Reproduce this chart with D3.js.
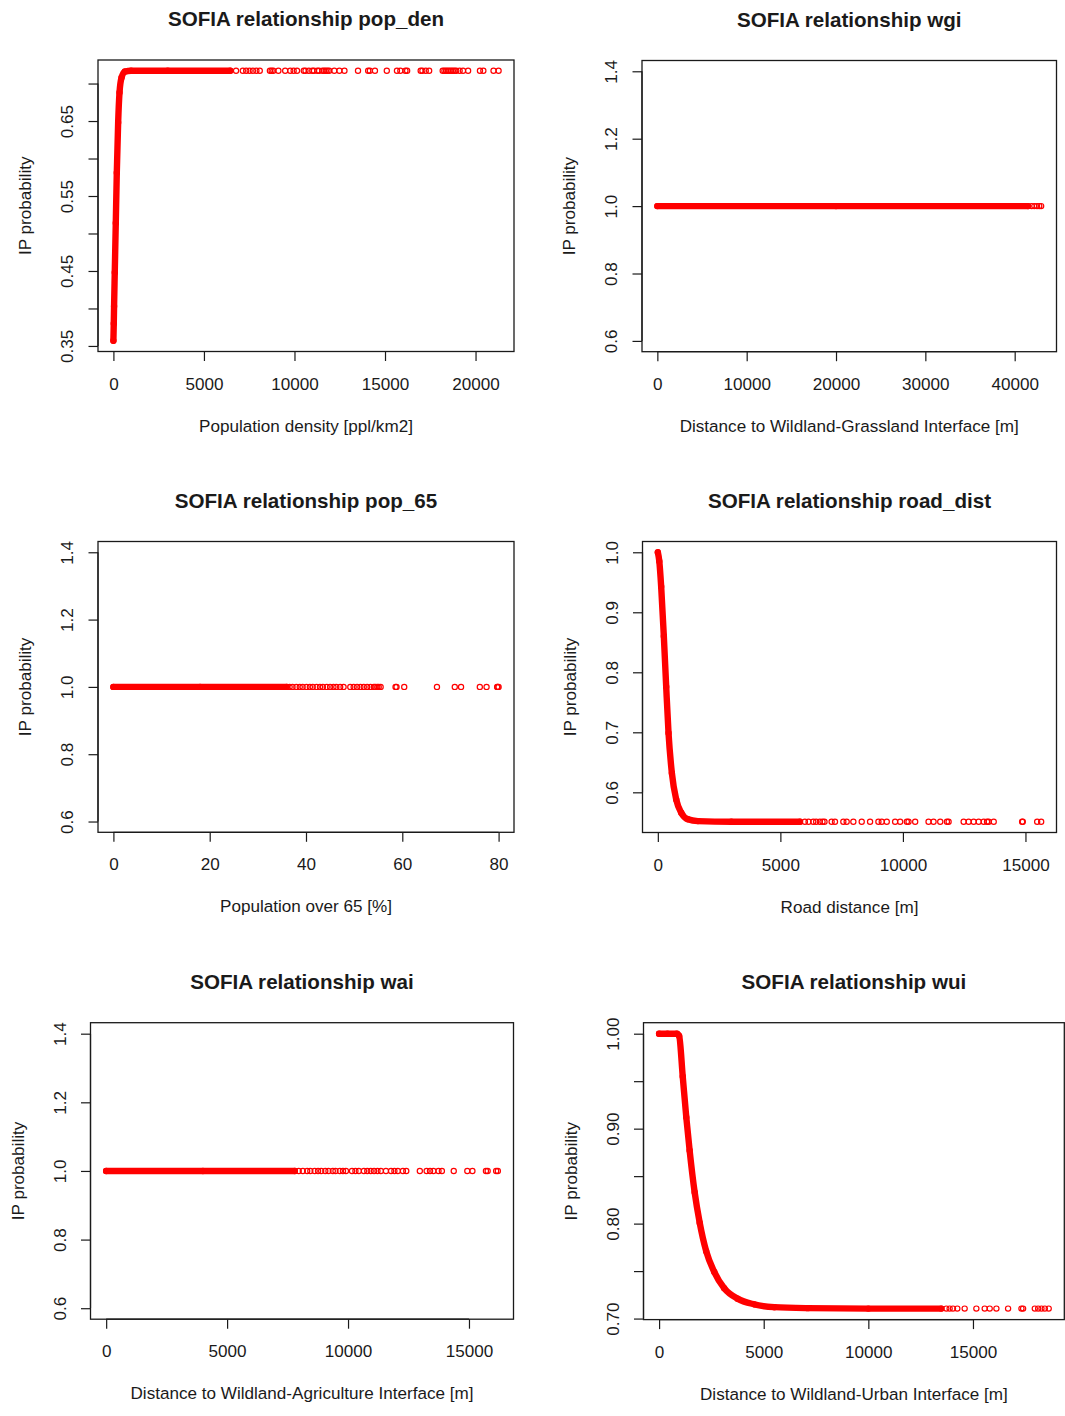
<!DOCTYPE html>
<html>
<head>
<meta charset="utf-8">
<script src="https://cdn.jsdelivr.net/npm/d3@7"></script>
<style>
  body { margin: 0; background: #fff; }
  svg { display: block; }
  text { font-family: "Liberation Sans", Arial, Helvetica, sans-serif; fill: #1a1a1a; }
</style>
</head>
<body>
<svg id="fig" width="1065" height="1416"></svg>
<script>
// ---------------- data ----------------
// pop_den: dense part of the response curve (x, y) and the sparse tail on the plateau
const popDenCurveX = [0, 20, 37, 75, 131, 187, 262, 337, 449, 636, 973, 3000, 6450];
const popDenCurveY = [0.357, 0.380, 0.403, 0.448, 0.514, 0.581, 0.648, 0.688, 0.708, 0.716, 0.717, 0.717, 0.717];
const popDenTailX = [6773, 7147, 7334, 7521, 7709, 7896, 8083, 8644, 8738, 8831, 9112, 9486, 9767, 9954,
  10141, 10515, 10609, 10796, 10983, 11076, 11263, 11357, 11544, 11638, 11731, 11825, 11918, 12199,
  12480, 12760, 13509, 14070, 14163, 14444, 15099, 15660, 15847, 16128, 16222, 16970, 17064, 17251,
  17438, 18186, 18280, 18373, 18467, 18560, 18654, 18747, 18841, 18934, 19121, 19309, 19589, 20244,
  20431, 20993, 21273];
const popDenTailY = 0.717;
const popDenXTicks = [0, 5000, 10000, 15000, 20000];
const popDenYTicks = [0.35, 0.40, 0.45, 0.50, 0.55, 0.60, 0.65, 0.70];
const popDenYLabels = ["0.35", "", "0.45", "", "0.55", "", "0.65", ""];

// wgi
const wgiCurveX = [0, 20000, 41500];
const wgiCurveY = [1.0, 1.0, 1.0];
const wgiTailX = [41900, 42200, 42500, 42750, 42963];
const wgiTailY = 1.0;
const wgiXTicks = [0, 10000, 20000, 30000, 40000];
const wgiYTicks = [0.6, 0.8, 1.0, 1.2, 1.4];
const wgiYLabels = ["0.6", "0.8", "1.0", "1.2", "1.4"];

// pop_65
const pop65CurveX = [0, 18, 36];
const pop65CurveY = [1.0, 1.0, 1.0];
const pop65TailX = [36.6, 37.2, 38.0, 38.7, 39.3, 40.1, 40.8, 41.4, 42.2, 42.9, 43.5, 44.3, 45.0, 45.7,
  46.3, 47.1, 47.8, 49.2, 49.9, 50.6, 51.3, 52.0, 52.7, 53.4, 54.1, 54.4, 54.8, 55.1, 55.5, 58.6, 58.8,
  60.4, 67.2, 70.9, 72.2, 76.1, 77.5, 79.7, 79.8, 80.0];
const pop65TailY = 1.0;
const pop65XTicks = [0, 20, 40, 60, 80];
const pop65YTicks = [0.6, 0.8, 1.0, 1.2, 1.4];
const pop65YLabels = ["0.6", "0.8", "1.0", "1.2", "1.4"];

// road_dist
const roadCurveX = [0, 60, 136, 245, 341, 436, 573, 750, 955, 1228, 1637, 3000, 5800];
const roadCurveY = [1.0, 0.985, 0.943, 0.860, 0.776, 0.699, 0.632, 0.588, 0.566, 0.555, 0.552, 0.551, 0.551];
const roadTailX = [6000, 6150, 6340, 6460, 6610, 6720, 6800, 7091, 7228, 7569, 7705, 7978, 8319, 8660,
  9000, 9137, 9341, 9682, 9887, 10160, 10228, 10500, 11046, 11250, 11523, 11796, 11864, 12478, 12682,
  12887, 13091, 13296, 13432, 13500, 13705, 14864, 14891, 15478, 15641];
const roadTailY = 0.551;
const roadXTicks = [0, 5000, 10000, 15000];
const roadYTicks = [0.6, 0.7, 0.8, 0.9, 1.0];
const roadYLabels = ["0.6", "0.7", "0.8", "0.9", "1.0"];

// wai
const waiCurveX = [0, 4000, 7800];
const waiCurveY = [1.0, 1.0, 1.0];
const waiTailX = [7960, 8130, 8310, 8440, 8620, 8760, 8890, 9060, 9190, 9370, 9480, 9660, 9790, 9913,
  10164, 10305, 10445, 10655, 10795, 10936, 11076, 11216, 11356, 11567, 11777, 11917, 12057, 12268,
  12408, 12968, 13249, 13389, 13529, 13740, 13880, 14370, 14931, 15142, 15702, 15772, 16123, 16193];
const waiTailY = 1.0;
const waiXTicks = [0, 5000, 10000, 15000];
const waiYTicks = [0.6, 0.8, 1.0, 1.2, 1.4];
const waiYLabels = ["0.6", "0.8", "1.0", "1.2", "1.4"];

// wui
const wuiCurveX = [0, 400, 850, 960, 1130, 1300, 1460, 1700, 1940, 2250, 2640, 3112, 3750, 4549, 5506, 7102, 10000, 13486];
const wuiCurveY = [1.0, 1.0, 1.0, 0.9975, 0.955, 0.912, 0.877, 0.833, 0.801, 0.771, 0.749, 0.732, 0.721, 0.715, 0.712, 0.711, 0.7105, 0.7105];
const wuiTailX = [13726, 13885, 14045, 14252, 14603, 15162, 15561, 15800, 16120, 16678, 17317, 17396,
  17955, 18115, 18274, 18434, 18620];
const wuiTailY = 0.7105;
const wuiXTicks = [0, 5000, 10000, 15000];
const wuiYTicks = [0.70, 0.75, 0.80, 0.85, 0.90, 0.95, 1.00];
const wuiYLabels = ["0.70", "", "0.80", "", "0.90", "", "1.00"];

// ---------------- panels ----------------
const panels = [
  { title: "SOFIA relationship pop_den", xlab: "Population density [ppl/km2]",
    cx: popDenCurveX, cy: popDenCurveY, tx: popDenTailX, ty: popDenTailY,
    xticks: popDenXTicks, yticks: popDenYTicks, ylabels: popDenYLabels,
    box: { left: 98, right: 514, top: 60, bottom: 351.5 } },
  { title: "SOFIA relationship wgi", xlab: "Distance to Wildland-Grassland Interface [m]",
    cx: wgiCurveX, cy: wgiCurveY, tx: wgiTailX, ty: wgiTailY,
    xticks: wgiXTicks, yticks: wgiYTicks, ylabels: wgiYLabels,
    box: { left: 642, right: 1056.5, top: 60.5, bottom: 351.7 } },
  { title: "SOFIA relationship pop_65", xlab: "Population over 65 [%]",
    cx: pop65CurveX, cy: pop65CurveY, tx: pop65TailX, ty: pop65TailY,
    xticks: pop65XTicks, yticks: pop65YTicks, ylabels: pop65YLabels,
    box: { left: 98, right: 514, top: 541.5, bottom: 832.3 } },
  { title: "SOFIA relationship road_dist", xlab: "Road distance [m]",
    cx: roadCurveX, cy: roadCurveY, tx: roadTailX, ty: roadTailY,
    xticks: roadXTicks, yticks: roadYTicks, ylabels: roadYLabels,
    box: { left: 642.5, right: 1056.5, top: 541.5, bottom: 832.5 } },
  { title: "SOFIA relationship wai", xlab: "Distance to Wildland-Agriculture Interface [m]",
    cx: waiCurveX, cy: waiCurveY, tx: waiTailX, ty: waiTailY,
    xticks: waiXTicks, yticks: waiYTicks, ylabels: waiYLabels,
    box: { left: 90.5, right: 513.5, top: 1022.7, bottom: 1319.2 } },
  { title: "SOFIA relationship wui", xlab: "Distance to Wildland-Urban Interface [m]",
    cx: wuiCurveX, cy: wuiCurveY, tx: wuiTailX, ty: wuiTailY,
    xticks: wuiXTicks, yticks: wuiYTicks, ylabels: wuiYLabels,
    box: { left: 643.5, right: 1064.3, top: 1022.7, bottom: 1319.6 } }
];

const RED = "#ff0000";
const INK = "#1a1a1a";
const R = 2.6, SW = 1.2;          // open-circle radius and stroke
const BAND = 2 * R + SW;          // width of a run of overlapping circles
const FS = 17.1, FS_TITLE = 20.6, TICK = 9.5;

// extended range like R's default axis style (4% padding, +-40% for constant data)
function padded(lo, hi) {
  if (hi - lo < 1e-12) { const d = Math.abs(lo) * 0.4 || 1; lo -= d; hi += d; }
  const p = (hi - lo) * 0.04;
  return [lo - p, hi + p];
}

const svg = d3.select("#fig");

panels.forEach(p => {
  const pts = p.cx.map((x, i) => [x, p.cy[i]]);
  const tail = p.tx.map(x => [x, p.ty]);
  const all = pts.concat(tail);
  const b = p.box;

  const x = d3.scaleLinear().domain(padded(d3.min(all, d => d[0]), d3.max(all, d => d[0]))).range([b.left, b.right]);
  const y = d3.scaleLinear().domain(padded(d3.min(all, d => d[1]), d3.max(all, d => d[1]))).range([b.bottom, b.top]);

  const g = svg.append("g");
  const midX = (b.left + b.right) / 2, midY = (b.top + b.bottom) / 2;

  // title
  g.append("text").attr("x", midX).attr("y", b.top - 34)
    .attr("text-anchor", "middle").style("font-weight", "bold").style("font-size", FS_TITLE + "px")
    .text(p.title);

  // x axis
  const xAxis = d3.axisBottom(x).tickValues(p.xticks).tickSize(TICK).tickPadding(0).tickFormat(d3.format("d"));
  const gx = g.append("g").attr("transform", `translate(0,${b.bottom})`).call(xAxis);
  gx.select(".domain").attr("d", `M${x(p.xticks[0])},0H${x(p.xticks[p.xticks.length - 1])}`)
    .attr("stroke", INK).attr("stroke-width", 1.2);
  gx.selectAll(".tick line").attr("stroke", INK).attr("stroke-width", 1.2);
  gx.selectAll(".tick text").attr("y", 38).attr("dy", null)
    .style("font-size", FS + "px").attr("fill", INK)
    .style("font-family", '"Liberation Sans", Arial, sans-serif');

  // y axis (labels rotated, as in base graphics)
  const yAxis = d3.axisLeft(y).tickValues(p.yticks).tickSize(TICK).tickPadding(0)
    .tickFormat((d, i) => p.ylabels[i]);
  const gy = g.append("g").attr("transform", `translate(${b.left},0)`).call(yAxis);
  gy.select(".domain").attr("d", `M0,${y(p.yticks[0])}V${y(p.yticks[p.yticks.length - 1])}`)
    .attr("stroke", INK).attr("stroke-width", 1.2);
  gy.selectAll(".tick line").attr("stroke", INK).attr("stroke-width", 1.2);
  gy.selectAll(".tick text")
    .attr("x", null).attr("dy", null)
    .attr("transform", "translate(-25,0) rotate(-90)")
    .attr("text-anchor", "middle")
    .style("font-size", FS + "px").attr("fill", INK)
    .style("font-family", '"Liberation Sans", Arial, sans-serif');

  // axis titles
  g.append("text").attr("x", midX).attr("y", b.bottom + 80)
    .attr("text-anchor", "middle").style("font-size", FS + "px").text(p.xlab);
  g.append("text").attr("transform", `translate(${b.left - 67},${midY}) rotate(-90)`)
    .attr("text-anchor", "middle").style("font-size", FS + "px").text("IP probability");

  // dense run of points: overlapping circles merge into a solid band
  const line = d3.line().x(d => x(d[0])).y(d => y(d[1])).curve(d3.curveMonotoneX);
  g.append("path").attr("d", line(pts)).attr("fill", "none")
    .attr("stroke", RED).attr("stroke-width", BAND)
    .attr("stroke-linecap", "round").attr("stroke-linejoin", "round");

  // individual points
  g.selectAll("circle.pt").data(all).join("circle").attr("class", "pt")
    .attr("cx", d => x(d[0])).attr("cy", d => y(d[1])).attr("r", R)
    .attr("fill", "none").attr("stroke", RED).attr("stroke-width", SW);

  // plot frame
  g.append("rect").attr("x", b.left).attr("y", b.top)
    .attr("width", b.right - b.left).attr("height", b.bottom - b.top)
    .attr("fill", "none").attr("stroke", INK).attr("stroke-width", 1.3);
});
</script>
</body>
</html>
